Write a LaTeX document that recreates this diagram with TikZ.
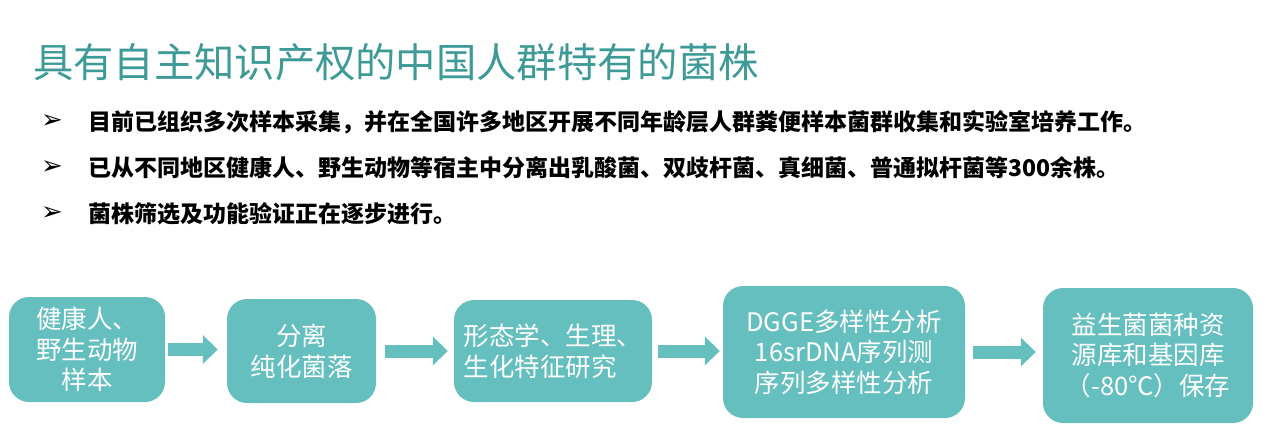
\documentclass[tikz,border=0pt]{standalone}
\usepackage{fontspec}
\setmainfont{Noto Sans CJK SC}
\newfontfamily\symfont{DejaVu Sans}
\usetikzlibrary{arrows.meta}
\usetikzlibrary{positioning}
\definecolor{boxteal}{HTML}{64BFBE}
\definecolor{titleteal}{HTML}{3D9A96}

\begin{document}
\begin{tikzpicture}[
    x=1pt, y=-1pt,
    stepbox/.style={rectangle, rounded corners=20pt, fill=boxteal, text=white, align=center, inner sep=0pt, font=\fontsize{25.5}{30.5}\selectfont},
    point/.style={anchor=west, inner sep=0pt, font=\bfseries\fontsize{23}{27}\selectfont},
    marker/.style={inner sep=0pt, font=\symfont\fontsize{26}{28}\selectfont},
    flow/.style={boxteal, line width=13pt, -{Triangle[length=15pt, width=28pt]}}
]
\useasboundingbox (0,0) rectangle (1268,446);

% --- Title ---
\node[anchor=west, inner sep=0pt, text=titleteal, font=\fontsize{40.3}{45}\selectfont] (title) at (33,62) {具有自主知识产权的中国人群特有的菌株};

% --- Bullet points ---
\foreach \y [count=\i] in {122,168,214}
    \node[marker] (m\i) at (52,\y) {➢};
\node[point] (p1) at (88,122) {目前已组织多次样本采集，并在全国许多地区开展不同年龄层人群粪便样本菌群收集和实验室培养工作。};
\node[point] (p2) at (88,168) {已从不同地区健康人、野生动物等宿主中分离出乳酸菌、双歧杆菌、真细菌、普通拟杆菌等300余株。};
\node[point] (p3) at (88,214) {菌株筛选及功能验证正在逐步进行。};

% --- Process steps ---
\node[stepbox, minimum width=156pt, minimum height=105pt] (b1) at (87,349.5) {健康人、\\野生动物\\样本};
\node[stepbox, minimum width=149pt, minimum height=104pt] (b2) at (301.5,351) {分离\\纯化菌落};
\node[stepbox, align=left, minimum width=198pt, minimum height=102pt] (b3) at (553,351) {形态学、生理、\\生化特征研究};
\node[stepbox, minimum width=242pt, minimum height=132pt] (b4) at (844,352) {DGGE多样性分析\\16srDNA序列测\\序列多样性分析};
\node[stepbox, minimum width=210pt, minimum height=135pt] (b5) at (1148,355.5) {益生菌菌种资\\源库和基因库\\（-80℃）保存};

% --- Arrows between steps ---
\draw[flow, shorten <=3pt, shorten >=9pt] (b1.east) -- (b2.west |- b1.east);
\draw[flow, shorten <=9pt, shorten >=6pt] (b2.east) -- (b3.west |- b2.east);
\draw[flow, shorten <=6pt, shorten >=3pt] (b3.east) -- (b4.west |- b3.east);
\draw[flow, shorten <=8pt, shorten >=7pt] (b4.east) -- (b5.west |- b4.east);

\end{tikzpicture}
\end{document}
